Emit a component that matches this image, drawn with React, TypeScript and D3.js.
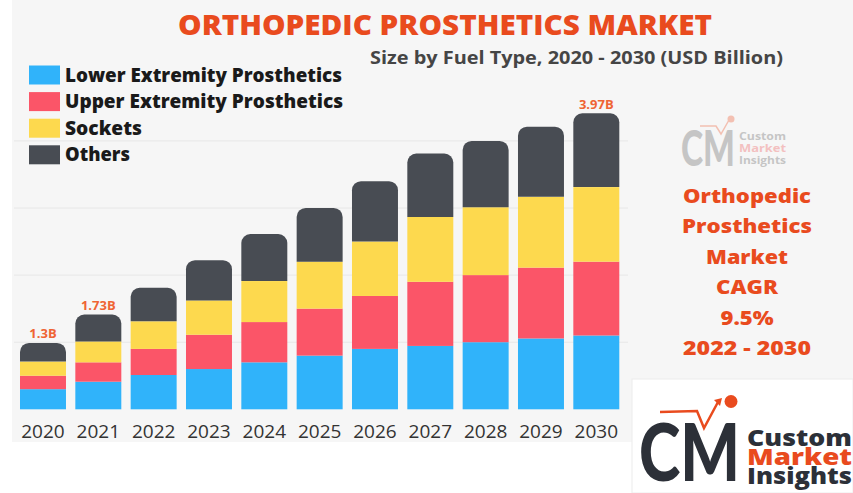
import React from "react";
import * as d3 from "d3";

const years = ["2020", "2021", "2022", "2023", "2024", "2025", "2026", "2027", "2028", "2029", "2030"];
const seriesNames = ["Lower Extremity Prosthetics", "Upper Extremity Prosthetics", "Sockets", "Others"];
const seriesColors = ["#30b3fa", "#fb5568", "#fdd94e", "#484c53"];
const lowerExtremity = [0.27, 0.37, 0.46, 0.54, 0.63, 0.72, 0.81, 0.85, 0.90, 0.95, 0.99];
const upperExtremity = [0.18, 0.26, 0.35, 0.46, 0.54, 0.63, 0.71, 0.86, 0.90, 0.95, 0.99];
const sockets = [0.19, 0.28, 0.37, 0.46, 0.55, 0.63, 0.73, 0.87, 0.91, 0.95, 1.0];
const others = [0.25, 0.36, 0.45, 0.54, 0.63, 0.72, 0.81, 0.85, 0.89, 0.94, 0.99];
const valueLabels = ["1.3B", "1.73B", "", "", "", "", "", "", "", "", "3.97B"];
const gridValues = [0.9, 1.8, 2.7, 3.6];
const cagrLines = ["Orthopedic", "Prosthetics", "Market", "CAGR", "9.5%", "2022 - 2030"];
const cagrWidths = [128, 130, 82, 62, 53, 128];

const W = 853;
const H = 493;
const ORANGE = "#e94b1e";

function roundedTop(x: number, y: number, w: number, h: number, r: number) {
  const rr = Math.min(r, h, w / 2);
  const p = d3.path();
  p.moveTo(x, y + h);
  p.lineTo(x, y + rr);
  p.arcTo(x, y, x + rr, y, rr);
  p.lineTo(x + w - rr, y);
  p.arcTo(x + w, y, x + w, y + rr, rr);
  p.lineTo(x + w, y + h);
  p.closePath();
  return p.toString();
}

export default function App() {
  const rows = years.map((y, i) => ({
    year: y,
    s0: lowerExtremity[i],
    s1: upperExtremity[i],
    s2: sockets[i],
    s3: others[i],
  }));
  const keys = ["s0", "s1", "s2", "s3"];
  const stacked = d3.stack<any>().keys(keys)(rows);

  const x = d3.scaleBand<string>().domain(years).range([20, 619.3]).paddingInner(0.169).paddingOuter(0);
  const y = d3.scaleLinear().domain([0, 4]).range([409.3, 409.3 - 4 * 74.56]);

  const font = "'Open Sans', 'DejaVu Sans', sans-serif";

  return (
    <svg width={W} height={H} style={{ position: "absolute", left: 0, top: 0 }} fontFamily={font}>
      <rect x={0} y={0} width={W} height={H} fill="#ffffff" />
      <rect x={12} y={0} width={W - 12} height={442} fill="#f6f6f6" />

      {/* Title */}
      <text x={445} y={35} textAnchor="middle" fontSize={28} fontWeight={800} fill={ORANGE}
        textLength={534} lengthAdjust="spacingAndGlyphs">ORTHOPEDIC PROSTHETICS MARKET</text>
      <text x={370} y={64} fontSize={17} fontWeight={700} fill="#454545"
        textLength={413} lengthAdjust="spacingAndGlyphs">Size by Fuel Type, 2020 - 2030 (USD Billion)</text>

      {/* Legend */}
      {seriesNames.map((n, i) => {
        const widths = [277, 278, 77, 65];
        return (
          <g key={n} transform={`translate(0, ${i * 26.6})`}>
            <rect x={29} y={65.5} width={31} height={19} fill={seriesColors[i]} />
            <text x={65} y={81.5} fontSize={18.5} fontWeight={800} fill="#1a1a1a"
              textLength={widths[i]} lengthAdjust="spacingAndGlyphs">{n}</text>
          </g>
        );
      })}

      {/* Gridlines */}
      {gridValues.map((g) => (
        <line key={g} x1={14} x2={628} y1={y(g)} y2={y(g)} stroke="#e7e7e7" strokeWidth={1} />
      ))}

      {/* Bars */}
      {stacked.map((layer, li) => (
        <g key={layer.key}>
          {layer.map((d: any, i: number) => {
            const bx = x(years[i]) as number;
            const bw = x.bandwidth();
            const top = y(d[1]);
            const h = y(d[0]) - y(d[1]);
            if (li === stacked.length - 1) {
              return <path key={i} d={roundedTop(bx, top, bw, h, 9)} fill={seriesColors[li]} />;
            }
            return <rect key={i} x={bx} y={top} width={bw} height={h} fill={seriesColors[li]} />;
          })}
        </g>
      ))}

      {/* Value labels */}
      {years.map((yr, i) =>
        valueLabels[i] ? (
          <text key={yr} x={(x(yr) as number) + x.bandwidth() / 2} y={y(stacked[3][i][1]) - 4.5}
            textAnchor="middle" fontSize={13} fontWeight={700} fill="#ef6434">{valueLabels[i]}</text>
        ) : null
      )}

      {/* Year labels */}
      {years.map((yr) => (
        <text key={yr} x={(x(yr) as number) + x.bandwidth() / 2} y={437.5} textAnchor="middle"
          fontSize={19} fontWeight={500} fill="#333333">{yr}</text>
      ))}

      {/* Faded logo */}
      <g opacity={0.45}>
        <text x={681} y={166} fontSize={50} fontWeight={900} fill="#8a8a8a" fontFamily="Lato, sans-serif"
          textLength={54} lengthAdjust="spacingAndGlyphs">CM</text>
        <circle cx={731} cy={119} r={3.5} fill="#f08060" />
        <path d="M700,126 L716,126 L721,134 L729,120" fill="none" stroke="#f08060" strokeWidth={1.5} />
        <text x={739} y={140} fontSize={11} fontWeight={700} fill="#8a8a8a"
          textLength={47} lengthAdjust="spacingAndGlyphs">Custom</text>
        <text x={739} y={152} fontSize={11} fontWeight={700} fill="#f08080"
          textLength={47} lengthAdjust="spacingAndGlyphs">Market</text>
        <text x={739} y={164} fontSize={11} fontWeight={700} fill="#8a8a8a"
          textLength={47} lengthAdjust="spacingAndGlyphs">Insights</text>
      </g>

      {/* CAGR text */}
      {cagrLines.map((t, i) => (
        <text key={t} x={747} y={202.5 + i * 30.5} textAnchor="middle" fontSize={19.5} fontWeight={800}
          fill={ORANGE} textLength={cagrWidths[i]} lengthAdjust="spacingAndGlyphs">{t}</text>
      ))}

      {/* Logo box */}
      <rect x={632} y={379} width={W - 632} height={H - 379} fill="#ffffff" stroke="#ececec" strokeWidth={1} />
      <path d="M660,412 L697,411 L704,428 L718,402" fill="none" stroke={ORANGE} strokeWidth={2.5} />
      <path d="M714,400 L722,398 L720,406 Z" fill={ORANGE} />
      <circle cx={731} cy={401.5} r={6.5} fill={ORANGE} />
      <text x={639} y={481} fontSize={80} fontWeight={900} fill="#2c3038" fontFamily="Lato, sans-serif"
        textLength={101} lengthAdjust="spacingAndGlyphs">CM</text>
      <text x={747} y={446} fontSize={23} fontWeight={800} fill="#2c3038"
        textLength={105} lengthAdjust="spacingAndGlyphs">Custom</text>
      <text x={747} y={465} fontSize={23} fontWeight={800} fill={ORANGE}
        textLength={105} lengthAdjust="spacingAndGlyphs">Market</text>
      <text x={747} y={483.5} fontSize={23} fontWeight={800} fill="#2c3038"
        textLength={105} lengthAdjust="spacingAndGlyphs">Insights</text>
    </svg>
  );
}
